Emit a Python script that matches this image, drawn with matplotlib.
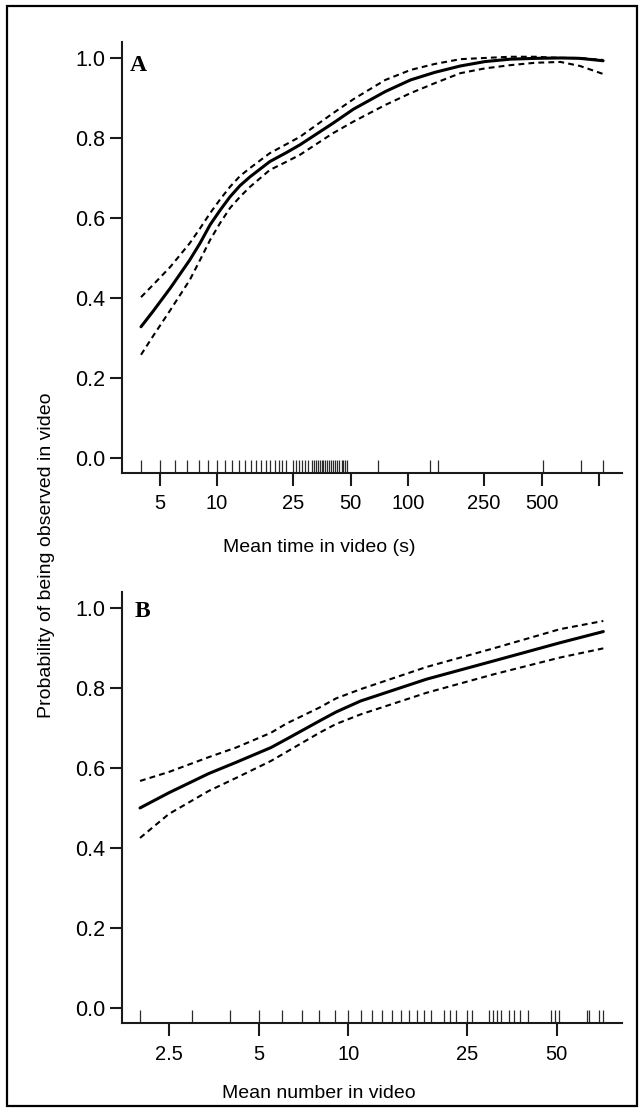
import matplotlib
matplotlib.use("Agg")
import matplotlib.pyplot as plt
from matplotlib.patches import Rectangle
from matplotlib.ticker import FixedLocator, FixedFormatter, NullLocator

plt.rcParams['font.family'] = ['Liberation Sans', 'DejaVu Sans']

# panel A: mean time in video (s)
time_x = [4, 4.63, 5.7, 7.2, 8.15, 9.2, 10.4, 11.7, 13.2, 14.9, 18.9, 23.2, 27.2,
          40.5, 51.8, 76, 103, 138, 188, 253, 343, 463, 628, 794, 1050]
time_fit = [0.328, 0.367, 0.425, 0.495, 0.537, 0.583, 0.62, 0.653, 0.681, 0.703, 0.741, 0.764, 0.783,
            0.837, 0.872, 0.916, 0.945, 0.964, 0.98, 0.991, 0.997, 0.999, 1.0, 0.999, 0.993]
time_hi = [0.402, 0.433, 0.478, 0.537, 0.574, 0.612, 0.647, 0.678, 0.705, 0.725, 0.762, 0.785, 0.803,
           0.862, 0.897, 0.945, 0.97, 0.985, 0.997, 1.0, 1.003, 1.003, 1.0, 1.0, 0.995]
time_lo = [0.258, 0.305, 0.37, 0.445, 0.495, 0.545, 0.588, 0.625, 0.653, 0.678, 0.72, 0.741, 0.758,
           0.812, 0.841, 0.8825, 0.912, 0.937, 0.962, 0.974, 0.982, 0.988, 0.99, 0.98, 0.96]
time_rug = [4, 5, 6, 7, 8, 9, 10, 11, 12, 13, 14, 15, 16, 17, 18, 19, 20, 21, 22, 23,
            25, 26, 27, 28, 29, 30, 31.4, 32.2, 33, 33.8, 34.6, 35.5, 36, 36.9, 37.8,
            38.7, 39.7, 40.6, 41.6, 42.6, 43.6, 45.1, 45.8, 46.9, 48, 70, 131, 144, 507, 800, 1050]
time_ticks = [5, 10, 25, 50, 100, 250, 500, 1000]
time_labels = ['5', '10', '25', '50', '100', '250', '500', '']

# panel B: mean number in video
num_x = [2, 2.5, 3.4, 4.2, 5.5, 6.2, 8, 9.1, 11, 18.3, 30.7, 51.3, 71.7]
num_fit = [0.50, 0.538, 0.586, 0.614, 0.651, 0.672, 0.7175, 0.74, 0.7675, 0.822, 0.8675, 0.913, 0.941]
num_hi = [0.5675, 0.59, 0.627, 0.651, 0.688, 0.711, 0.751, 0.774, 0.797, 0.8525, 0.899, 0.947, 0.9675]
num_lo = [0.425, 0.485, 0.5425, 0.575, 0.6175, 0.64, 0.688, 0.71, 0.734, 0.788, 0.834, 0.876, 0.899]
num_rug = [2, 3, 4, 5, 6, 7, 8, 9, 10, 11, 12, 13, 14, 15, 16, 17, 18, 19, 21, 22, 23,
           25, 26, 29.7, 30.5, 31.5, 32.5, 34.7, 36, 37.7, 40, 47.8, 49.4, 50.9, 63, 64, 69.5, 71.7]
num_ticks = [2.5, 5, 10, 25, 50]
num_labels = ['2.5', '5', '10', '25', '50']

y_ticks = [0.0, 0.2, 0.4, 0.6, 0.8, 1.0]

fig = plt.figure(figsize=(6.42, 11.1), dpi=100)

# border around the whole figure
fig.patches.append(Rectangle((0.011, 0.004), 0.981, 0.991, transform=fig.transFigure,
                             fill=False, edgecolor='black', linewidth=1.6))

axA = fig.add_axes([0.190, 0.5739, 0.779, 0.3883])
axB = fig.add_axes([0.190, 0.0784, 0.779, 0.3883])


def draw_panel(ax, x, fit, lo, hi, rug, xlim, ticks, labels, letter, letter_pos):
    ax.set_xscale('log')
    ax.plot(x, fit, color='black', linewidth=2.2, solid_capstyle='round', solid_joinstyle='round')
    ax.plot(x, hi, color='black', linewidth=1.5, dashes=(2.8, 2.0))
    ax.plot(x, lo, color='black', linewidth=1.5, dashes=(2.8, 2.0))
    # rug along the bottom
    ax.vlines(rug, 0, 0.029, transform=ax.get_xaxis_transform(),
              color='#2a2a2a', linewidth=0.9)
    ax.set_xlim(xlim)
    ax.set_ylim(-0.0375, 1.04)
    ax.xaxis.set_major_locator(FixedLocator(ticks))
    ax.xaxis.set_major_formatter(FixedFormatter(labels))
    ax.xaxis.set_minor_locator(NullLocator())
    ax.set_yticks(y_ticks)
    ax.set_yticklabels([f'{v:.1f}' for v in y_ticks])
    for side in ['top', 'right']:
        ax.spines[side].set_visible(False)
    for side in ['left', 'bottom']:
        ax.spines[side].set_linewidth(1.5)
        ax.spines[side].set_color('#1a1a1a')
    ax.tick_params(axis='x', length=9.5, width=1.5, pad=6, labelsize=14.5, color='#1a1a1a')
    ax.tick_params(axis='y', length=8.5, width=1.5, pad=3.5, labelsize=15.5, color='#1a1a1a')
    ax.text(letter_pos[0], letter_pos[1], letter, transform=ax.transAxes,
            family=['Liberation Serif', 'DejaVu Serif'], fontweight='bold', fontsize=17,
            ha='left', va='baseline')


draw_panel(axA, time_x, time_fit, time_lo, time_hi, time_rug, (3.18, 1320),
           time_ticks, time_labels, 'A', (0.016, 0.933))
draw_panel(axB, num_x, num_fit, num_lo, num_hi, num_rug, (1.74, 82.9),
           num_ticks, num_labels, 'B', (0.026, 0.942))

fig.text(0.497, 0.507, 'Mean time in video (s)', ha='center', va='center', fontsize=14)
fig.text(0.497, 0.0153, 'Mean number in video', ha='center', va='center', fontsize=14)
fig.text(0.072, 0.5, 'Probability of being observed in video', rotation=90,
         ha='center', va='center', fontsize=14)

fig.savefig('out.png', dpi=100)
